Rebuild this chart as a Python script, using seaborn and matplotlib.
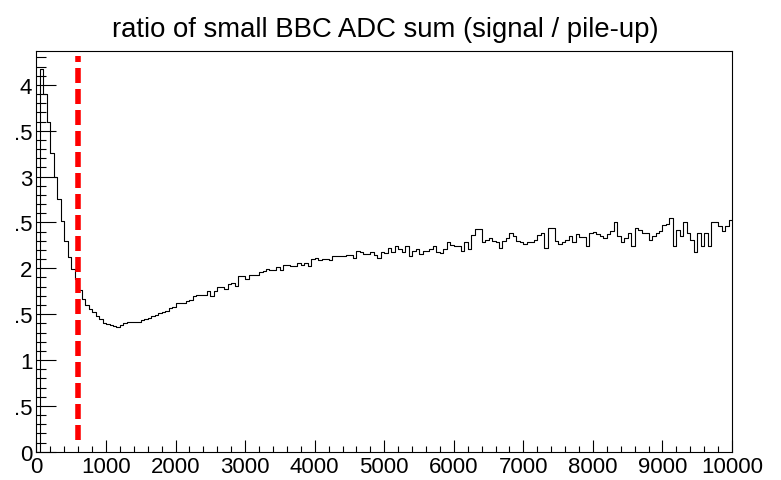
import numpy as np
import pandas as pd
import matplotlib
matplotlib.use("Agg")
import matplotlib.pyplot as plt
from matplotlib.ticker import MultipleLocator, FixedLocator, FixedFormatter
import seaborn as sns

# --- chart data -----------------------------------------------------------
title = "ratio of small BBC ADC sum (signal / pile-up)"
adc_min, adc_max, bin_width = 0, 10000, 50

# signal / pile-up ratio per 50-count ADC bin
ratio = [
    0.0, 4.17, 3.90, 3.60, 3.26, 3.00, 2.76, 2.52, 2.30, 2.12,
    1.99, 1.88, 1.76, 1.67, 1.60, 1.56, 1.52, 1.48, 1.447, 1.40,
    1.39, 1.38, 1.367, 1.356, 1.38, 1.40, 1.41, 1.42, 1.42, 1.42,
    1.436, 1.447, 1.455, 1.483, 1.49, 1.512, 1.52, 1.53, 1.564, 1.58,
    1.618, 1.625, 1.625, 1.64, 1.657, 1.695, 1.709, 1.707, 1.707, 1.755,
    1.70, 1.755, 1.793, 1.80, 1.774, 1.83, 1.835, 1.81, 1.92, 1.92,
    1.883, 1.93, 1.93, 1.925, 1.956, 1.974, 1.99, 1.985, 1.985, 2.01,
    1.985, 2.04, 2.04, 2.02, 2.02, 2.054, 2.04, 2.054, 2.03, 2.10,
    2.11, 2.09, 2.10, 2.10, 2.09, 2.137, 2.13, 2.13, 2.137, 2.14,
    2.15, 2.11, 2.185, 2.175, 2.156, 2.16, 2.175, 2.14, 2.11, 2.18,
    2.17, 2.218, 2.175, 2.246, 2.21, 2.175, 2.246, 2.13, 2.185, 2.21,
    2.16, 2.185, 2.19, 2.21, 2.246, 2.18, 2.163, 2.21, 2.29, 2.25,
    2.246, 2.246, 2.19, 2.283, 2.21, 2.36, 2.43, 2.43, 2.29, 2.31,
    2.327, 2.30, 2.283, 2.218, 2.30, 2.327, 2.38, 2.35, 2.30, 2.283,
    2.265, 2.29, 2.283, 2.31, 2.363, 2.385, 2.218, 2.436, 2.436, 2.30,
    2.265, 2.29, 2.31, 2.356, 2.283, 2.374, 2.34, 2.34, 2.246, 2.385,
    2.393, 2.37, 2.35, 2.327, 2.37, 2.41, 2.51, 2.35, 2.283, 2.327,
    2.38, 2.246, 2.44, 2.42, 2.39, 2.38, 2.31, 2.35, 2.38, 2.41,
    2.47, 2.48, 2.545, 2.246, 2.42, 2.35, 2.50, 2.38, 2.31, 2.18,
    2.38, 2.246, 2.39, 2.246, 2.51, 2.50, 2.46, 2.41, 2.46, 2.53,
]

# selection cut on the ADC sum
cut_adc = 600
cut_span = (0.065, 4.31)

x_ticks = list(range(0, 10001, 1000))
x_tick_labels = [str(v) for v in x_ticks]
y_ticks = [0, 0.5, 1, 1.5, 2, 2.5, 3, 3.5, 4]
y_tick_labels = ["0", ".5", "1", ".5", "2", ".5", "3", ".5", "4"]
y_max = 4.37

# --- figure ---------------------------------------------------------------
sns.set_theme(style="white")
plt.rcParams["font.family"] = ["Liberation Sans", "DejaVu Sans"]

centers = adc_min + bin_width * (np.arange(len(ratio)) + 0.5)
df = pd.DataFrame({"adc": centers, "ratio": ratio})

fig = plt.figure(figsize=(7.81, 4.81), dpi=100)
ax = fig.add_axes([0.0467, 0.0588, 0.8906, 0.8331])

sns.histplot(data=df, x="adc", weights="ratio", binwidth=bin_width,
             binrange=(adc_min, adc_max), element="step", fill=False,
             color="black", linewidth=0.8, ax=ax)

ax.plot([cut_adc, cut_adc], list(cut_span), color="#ff0000", lw=4,
        linestyle=(2.7, (2.7, 1.08)), dash_capstyle="butt", zorder=3)

ax.set_xlim(adc_min, adc_max)
ax.set_ylim(0, y_max)
ax.set_xlabel("")
ax.set_ylabel("")

ax.xaxis.set_major_locator(FixedLocator(x_ticks))
ax.xaxis.set_major_formatter(FixedFormatter(x_tick_labels))
ax.xaxis.set_minor_locator(MultipleLocator(200))
ax.yaxis.set_major_locator(FixedLocator(y_ticks))
ax.yaxis.set_major_formatter(FixedFormatter(y_tick_labels))
ax.yaxis.set_minor_locator(MultipleLocator(0.1))

ax.tick_params(axis="both", which="both", direction="in", colors="black",
               labelsize=16, width=0.8, top=False, right=False,
               bottom=True, left=True)
ax.tick_params(axis="x", which="major", length=8.6, pad=3)
ax.tick_params(axis="x", which="minor", length=4.3)
ax.tick_params(axis="y", which="major", length=14.4, pad=3)
ax.tick_params(axis="y", which="minor", length=7.2)

for spine in ax.spines.values():
    spine.set_visible(True)
    spine.set_color("black")
    spine.set_linewidth(0.8)

fig.text(0.493, 0.938, title, ha="center", va="center", fontsize=19.8,
         color="black")

fig.savefig("out.png", dpi=100)
